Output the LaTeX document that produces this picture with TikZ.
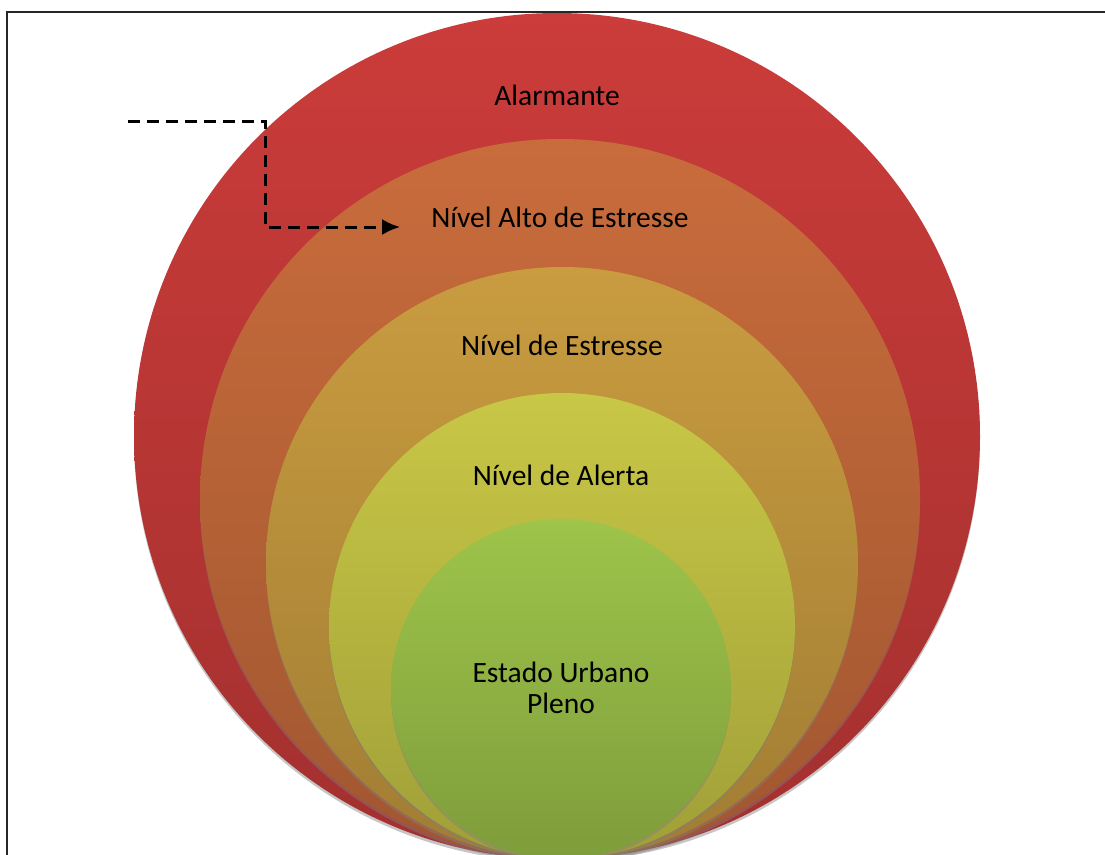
\documentclass[tikz,border=0pt]{standalone}
\usepackage{fontspec}
\setmainfont{Carlito}
\usetikzlibrary{arrows,arrows.meta,shadows}
\definecolor{alarme}{RGB}{203,60,58}
\definecolor{altoest}{RGB}{201,108,60}
\definecolor{estresse}{RGB}{201,156,64}
\definecolor{alerta}{RGB}{200,199,70}
\definecolor{pleno}{RGB}{158,196,74}
\tikzstyle{ring}=[circle,draw=none,inner sep=0pt,drop shadow={shadow xshift=0pt,shadow yshift=-3pt,opacity=0.45}]
\tikzstyle{level}=[font=\fontsize{29.5}{31}\selectfont,text=black,anchor=base,inner sep=0pt]
\tikzstyle{frame} = [draw,line width=2pt,black!85]

\begin{document}
\begin{tikzpicture}[x=1pt,y=-1pt]
          \tikzset{pointer/.style = {draw,line width=3pt,dash pattern=on 12pt off 7pt,-{Latex[length=18pt,width=16pt]},shorten >=31pt}}
          \useasboundingbox (0,0) rectangle (1105,854);
          \coordinate (fbot) at (7,900);
          \coordinate (ftop) at (1110,12);
          \draw[frame] (fbot) |- (ftop);
          \node[ring,minimum size=846pt,top color=alarme,bottom color=alarme!80!black] (c1) at (557,436) {};
          \node[ring,minimum size=720pt,top color=altoest,bottom color=altoest!80!black] (c2) at (560,499) {};
          \node[ring,minimum size=592pt,top color=estresse,bottom color=estresse!80!black] (c3) at (562,563) {};
          \node[ring,minimum size=466pt,top color=alerta,bottom color=alerta!80!black] (c4) at (562,626) {};
          \node[ring,minimum size=340pt,top color=pleno,bottom color=pleno!80!black] (c5) at (561,689) {};
          \node[level] (alarm) at (557,105) {Alarmante};
          \node[level] (alto) at (560,227) {Nível Alto de Estresse};
          \node[level] (estr) at (562,355) {Nível de Estresse};
          \node[level] (alert) at (561,485) {Nível de Alerta};
          \node[level,align=center] (urb) at (561,713) {Estado Urbano\\Pleno};
          \coordinate (src) at (128,121);
          \coordinate (bend) at (265,121);
          \draw[pointer] (src) -- (bend) |- (alto.base west);
        \end{tikzpicture}
\end{document}
